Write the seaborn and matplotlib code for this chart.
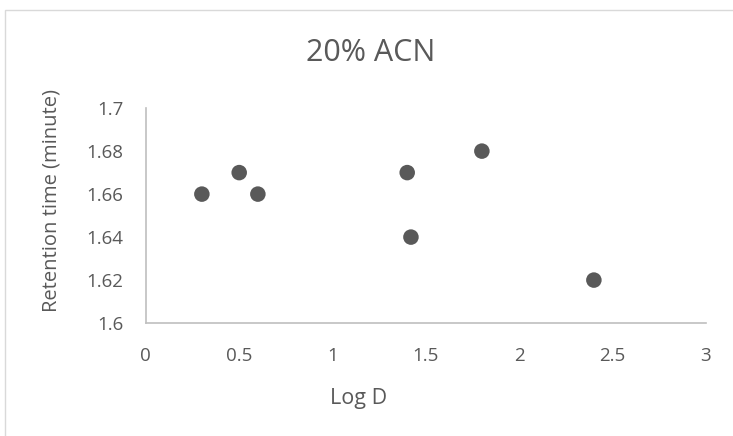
import matplotlib
matplotlib.use("Agg")
import matplotlib.pyplot as plt
import seaborn as sns
import pandas as pd
from matplotlib.patches import Rectangle

# values
log_d = [0.3, 0.5, 0.6, 1.4, 1.42, 1.8, 2.4]
retention = [1.66, 1.67, 1.66, 1.67, 1.64, 1.68, 1.62]
x_ticks = [0, 0.5, 1, 1.5, 2, 2.5, 3]
x_tick_labels = ["0", "0.5", "1", "1.5", "2", "2.5", "3"]
y_ticks = [1.6, 1.62, 1.64, 1.66, 1.68, 1.7]
y_tick_labels = ["1.6", "1.62", "1.64", "1.66", "1.68", "1.7"]

df = pd.DataFrame({"log_d": log_d, "retention": retention})

sns.set_style("white")
plt.rcParams["font.family"] = ["Open Sans", "DejaVu Sans"]
text_col = "#595959"

fig = plt.figure(figsize=(7.33, 4.36), dpi=100)
ax = fig.add_axes([0.199, 0.259, 0.764, 0.493])

sns.scatterplot(data=df, x="log_d", y="retention", color="#595959",
                s=125, edgecolor="none", ax=ax, zorder=3)

ax.set_xlim(0, 3)
ax.set_ylim(1.6, 1.7)
ax.set_xticks(x_ticks)
ax.set_xticklabels(x_tick_labels)
ax.set_yticks(y_ticks)
ax.set_yticklabels(y_tick_labels)
ax.tick_params(axis="x", length=0, labelsize=13.5, colors=text_col, pad=17)
ax.tick_params(axis="y", length=0, labelsize=13.5, colors=text_col, pad=16)

for side in ["top", "right"]:
    ax.spines[side].set_visible(False)
for side in ["left", "bottom"]:
    ax.spines[side].set_color("#bfbfbf")
    ax.spines[side].set_linewidth(1.2)

ax.set_xlabel("Log D", fontsize=15.5, color=text_col, va="center")
ax.xaxis.set_label_coords(0.38, -0.349)
ax.set_ylabel("Retention time (minute)", fontsize=14.5, color=text_col, va="center")
ax.yaxis.set_label_coords(-0.168, 0.572)

fig.text(0.506, 0.878, "20% ACN", fontsize=22, color=text_col,
         ha="center", va="center")

# light chart-area border like the original
fig.patches.append(Rectangle((5 / 733, -0.01), 1.0, 1 - 10 / 436 + 0.01,
                             transform=fig.transFigure, fill=False,
                             edgecolor="#d9d9d9", linewidth=1))

fig.savefig("out.png", dpi=100)
